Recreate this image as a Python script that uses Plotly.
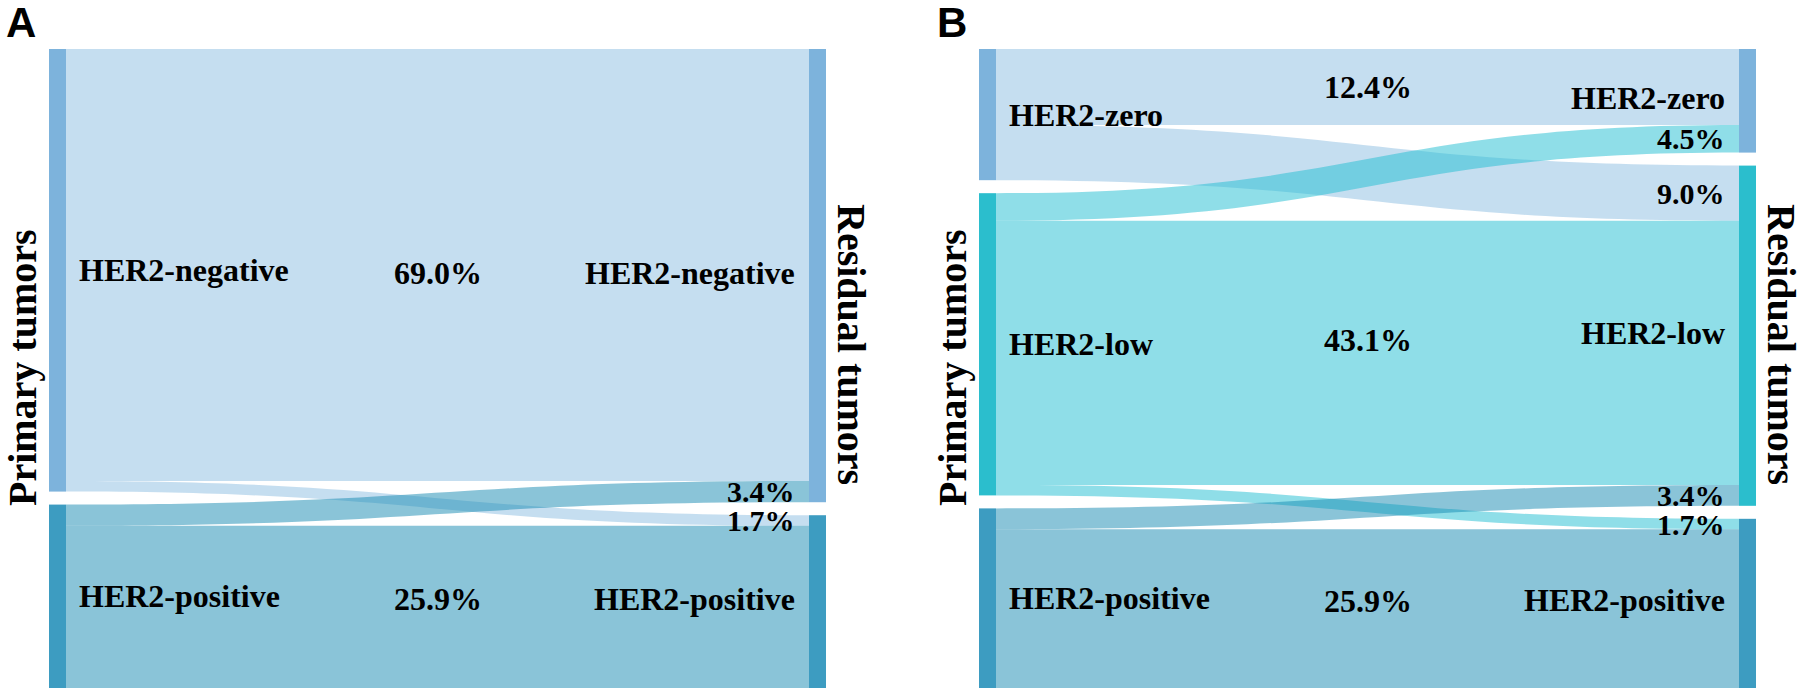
import plotly.graph_objects as go

W, H = 1802, 689

# ---------------- data ----------------
# Panel A
a_left = ["HER2-negative", "HER2-positive"]
a_right = ["HER2-negative", "HER2-positive"]
a_source = [0, 0, 1, 1]
a_target = [0, 1, 0, 1]
a_values = [69.0, 1.7, 3.4, 25.9]
a_label_mode = ["mid", "end", "end", "mid"]
a_cat_left = ["neg", "pos"]
a_cat_right = ["neg", "pos"]

# Panel B
b_left = ["HER2-zero", "HER2-low", "HER2-positive"]
b_right = ["HER2-zero", "HER2-low", "HER2-positive"]
b_source = [0, 0, 1, 1, 1, 2, 2]
b_target = [0, 1, 0, 1, 2, 1, 2]
b_values = [12.4, 9.0, 4.5, 43.1, 1.7, 3.4, 25.9]
b_label_mode = ["flow", "end", "end", "mid", "end", "end", "mid"]
b_cat_left = ["neg", "low", "pos"]
b_cat_right = ["neg", "low", "pos"]

# ---------------- styles ----------------
node_color = {"neg": "#7db3dc", "low": "#2bbecd", "pos": "#3d9cc1"}
link_color = {"neg": "rgba(139,189,225,0.5)", "low": "rgba(31,189,209,0.5)",
              "pos": "rgba(21,137,177,0.5)"}
THICK = 17
PAD = 13
TOP, BOTTOM = 49, 688
SERIF = "Liberation Serif, Times New Roman, serif"
SANS = "Liberation Sans, Arial, sans-serif"
FS = 32
FS_END = 30
FS_SIDE = 40


def px2paper(x, y):
    return x / W, 1 - y / H


def compute_layout(n_left, n_right, src, tgt, vals):
    lt = [0.0] * n_left
    rt = [0.0] * n_right
    for s, t, v in zip(src, tgt, vals):
        lt[s] += v
        rt[t] += v
    avail = BOTTOM - TOP
    k = min((avail - (n_left - 1) * PAD) / sum(lt), (avail - (n_right - 1) * PAD) / sum(rt))

    def stack(tot):
        spans, y = [], TOP
        for v in tot:
            spans.append((y, y + v * k))
            y += v * k + PAD
        return spans

    ls, rs = stack(lt), stack(rt)
    src_span, tgt_span = {}, {}
    for n in range(n_left):
        y = ls[n][0]
        for i in sorted([i for i in range(len(src)) if src[i] == n], key=lambda i: tgt[i]):
            src_span[i] = (y, y + vals[i] * k)
            y += vals[i] * k
    for n in range(n_right):
        y = rs[n][0]
        for i in sorted([i for i in range(len(tgt)) if tgt[i] == n], key=lambda i: src[i]):
            tgt_span[i] = (y, y + vals[i] * k)
            y += vals[i] * k
    return ls, rs, src_span, tgt_span


def make_panel(x0, x1, left, right, src, tgt, vals, modes, cl, cr, letter, letter_x):
    n_l, n_r = len(left), len(right)
    trace = go.Sankey(
        domain=dict(x=[x0 / W, x1 / W], y=[1 - BOTTOM / H, 1 - TOP / H]),
        arrangement="fixed",
        hoverinfo="none",
        node=dict(
            label=[""] * (n_l + n_r),
            color=[node_color[c] for c in cl + cr],
            thickness=THICK,
            pad=PAD,
            line=dict(width=0),
            hoverinfo="none",
        ),
        link=dict(
            source=src,
            target=[t + n_l for t in tgt],
            value=vals,
            color=[link_color[cl[s]] for s in src],
            line=dict(width=0),
            hoverinfo="none",
        ),
    )
    ls, rs, ss, ts = compute_layout(n_l, n_r, src, tgt, vals)
    ann = []

    def add(x, y, text, xa="center", size=FS, angle=0, family=SERIF):
        px, py = px2paper(x, y)
        ann.append(dict(x=px, y=py, xref="paper", yref="paper", text="<b>%s</b>" % text,
                        showarrow=False, xanchor=xa, yanchor="middle", textangle=angle,
                        font=dict(family=family, size=size, color="black")))

    for i, name in enumerate(left):
        add(x0 + THICK + 11, (ls[i][0] + ls[i][1]) / 2, name, "left")
    for i, name in enumerate(right):
        add(x1 - THICK - 12, (rs[i][0] + rs[i][1]) / 2 - 3, name, "right")
    for i, v in enumerate(vals):
        txt = "%.1f%%" % v
        if modes[i] == "end":
            add(x1 - THICK - 12, (ts[i][0] + ts[i][1]) / 2, txt, "right", size=FS_END)
        elif modes[i] == "flow":
            y = ((ss[i][0] + ss[i][1]) / 2 + (ts[i][0] + ts[i][1]) / 2) / 2
            add((x0 + x1) / 2, y, txt)
        else:
            y = ((ls[src[i]][0] + ls[src[i]][1]) / 2 + (rs[tgt[i]][0] + rs[tgt[i]][1]) / 2) / 2
            add((x0 + x1) / 2, y, txt)
    add(x0 - 27, 368, "Primary tumors", size=FS_SIDE, angle=-90)
    add(x1 + 26, 344, "Residual tumors", size=FS_SIDE, angle=90)
    add(letter_x, 22, letter, size=42, family=SANS)
    return trace, ann


tA, annA = make_panel(49, 826, a_left, a_right, a_source, a_target, a_values,
                      a_label_mode, a_cat_left, a_cat_right, "A", 21)
tB, annB = make_panel(979, 1756, b_left, b_right, b_source, b_target, b_values,
                      b_label_mode, b_cat_left, b_cat_right, "B", 952)

fig = go.Figure([tA, tB])
fig.update_layout(
    width=W, height=H,
    margin=dict(l=0, r=0, t=0, b=0),
    paper_bgcolor="white", plot_bgcolor="white",
    annotations=annA + annB,
    showlegend=False,
)
fig.write_html("out.html", config={"displayModeBar": False},
               post_script="document.body.style.margin='0';document.body.style.overflow='hidden';")
